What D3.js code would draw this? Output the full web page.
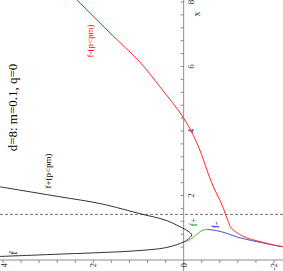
<!DOCTYPE html>
<html><head><meta charset="utf-8">
<script src="https://cdn.jsdelivr.net/npm/d3@7"></script>
<style>html,body{margin:0;padding:0;background:#fff;}svg{display:block;}</style>
</head><body>
<script>
// ---- data (plot is rotated 90° CCW: x runs upward, y runs leftward) ----
const title = "d=8: m=0.1, q=0";
const pm = 1.414;
// f-(p<pm), red
const redX = [8.06, 7.01, 6.14, 5.36, 4.40, 3.85, 3.26, 2.69, 2.17, 1.86, 1.60, 1.40, 1.19, 0.98, 0.82, 0.69, 0.57, 0.47, 0.41];
const redY = [2.36, 1.61, 0.97, 0.52, 0.00, -0.22, -0.40, -0.54, -0.69, -0.80, -0.88, -0.93, -0.99, -1.06, -1.21, -1.39, -1.69, -1.98, -2.20];
// f+(p<pm), black
const blackX = [2.27, 1.96, 1.75, 1.42, 1.24, 1.03, 0.89, 0.78, 0.65, 0.56, 0.39, 0.28, 0.23, 0.17, 0.11];
const blackY = [4.07, 2.74, 1.85, 0.92, 0.41, 0.08, -0.10, -0.18, -0.10, 0.00, 0.37, 1.12, 1.85, 2.96, 4.07];
// f+, green
const greenX = [0.57, 0.60, 0.70, 0.83, 0.91, 0.95];
const greenY = [-0.05, -0.10, -0.21, -0.32, -0.40, -0.51];
// f-, blue
const blueX = [0.95, 0.91, 0.83, 0.72, 0.64, 0.57, 0.47, 0.41];
const blueY = [-0.51, -0.73, -0.95, -1.17, -1.39, -1.62, -1.96, -2.18];
const xTickLabels = [2, 4, 6, 8];
const yTickLabels = [4, 2, 0, -2];

const W = 283, H = 271;
const svg = d3.select("body").append("svg").attr("width", W).attr("height", H);

// data x -> screen vertical, data y -> screen horizontal
const xS = d3.scaleLinear().domain([0, 8]).range([260, 2]);
const yS = d3.scaleLinear().domain([-2, 4]).range([274, 3]);

const zip = (a, b) => a.map((v, i) => [v, b[i]]);
const lineC = d3.line().x(d => yS(d[1])).y(d => xS(d[0])).curve(d3.curveCatmullRom.alpha(0.5));
const lineM = d3.line().x(d => yS(d[1])).y(d => xS(d[0])).curve(d3.curveMonotoneY);

const serif = "'Liberation Serif','Times New Roman',serif";
const axisCol = "#8c8c8c";

// axes
svg.append("line").attr("x1", 0).attr("x2", W).attr("y1", xS(0)).attr("y2", xS(0))
  .attr("stroke", axisCol).attr("stroke-width", 1);
svg.append("line").attr("x1", yS(0)).attr("x2", yS(0)).attr("y1", 0).attr("y2", H)
  .attr("stroke", axisCol).attr("stroke-width", 1);

// x ticks (on vertical axis)
const xTicks = d3.range(1, 21).map(i => i * 0.4);
svg.selectAll(".xt").data(xTicks).enter().append("line")
  .attr("x1", yS(0) - 3).attr("x2", yS(0)).attr("y1", d => xS(d)).attr("y2", d => xS(d))
  .attr("stroke", axisCol).attr("stroke-width", 1);
// y ticks (on horizontal axis)
const yTicks = d3.range(0, 16).map(i => -2 + i * 0.4);
svg.selectAll(".yt").data(yTicks).enter().append("line")
  .attr("x1", d => yS(d)).attr("x2", d => yS(d)).attr("y1", xS(0)).attr("y2", xS(0) + 3)
  .attr("stroke", axisCol).attr("stroke-width", 1);

function rtext(x, y, txt, size, fill, anchor) {
  return svg.append("text").attr("transform", `translate(${x},${y}) rotate(-90)`)
    .attr("text-anchor", anchor || "middle").attr("font-family", serif)
    .attr("font-size", size).attr("fill", fill || "#000").text(txt);
}

// x tick labels
xTickLabels.forEach(v => rtext(yS(0) + 10, xS(v), v, 9, "#333"));
rtext(yS(0) + 16, 14, "x", 10, "#333");
// y tick labels
yTickLabels.forEach(v => rtext(Math.max(yS(v) + 3, 7), xS(0) + 3, v, 9, "#333", "end"));

// dashed line x = pm
svg.append("line").attr("x1", 0).attr("x2", W).attr("y1", xS(pm)).attr("y2", xS(pm))
  .attr("stroke", "#333").attr("stroke-width", 0.7).attr("stroke-dasharray", "3,2");

// curves
svg.append("path").attr("d", lineC(zip(blackX, blackY))).attr("fill", "none").attr("stroke", "#000").attr("stroke-width", 0.8);
svg.append("path").attr("d", lineC(zip(blueX, blueY))).attr("fill", "none").attr("stroke", "#3333cc").attr("stroke-width", 0.9);
svg.append("path").attr("d", lineC(zip(greenX, greenY))).attr("fill", "none").attr("stroke", "#22bb22").attr("stroke-width", 0.9);
svg.append("path").attr("d", lineM(zip(redX, redY))).attr("fill", "none").attr("stroke", "#ff2a2a").attr("stroke-width", 1);

// labels
rtext(17, 107.5, title, 13, "#000");
rtext(93, 41, "f-(p<pm)", 9, "#ff0000");
rtext(51, 171, "f+(p<pm)", 9, "#000");
rtext(17, 253, "f", 11, "#000");
rtext(197, 222, "f+", 10, "#22aa22");
rtext(219, 225, "f-", 10, "#3333cc");
</script>
</body></html>
